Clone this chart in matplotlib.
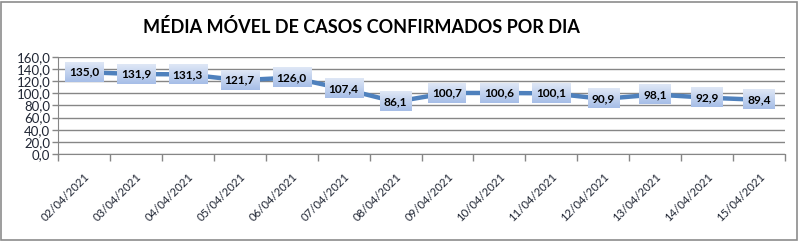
import numpy as np
import matplotlib
matplotlib.use("Agg")
import matplotlib.pyplot as plt
from matplotlib.colors import LinearSegmentedColormap
from matplotlib.patches import Rectangle

# chart data
dates = ["02/04/2021", "03/04/2021", "04/04/2021", "05/04/2021", "06/04/2021",
         "07/04/2021", "08/04/2021", "09/04/2021", "10/04/2021", "11/04/2021",
         "12/04/2021", "13/04/2021", "14/04/2021", "15/04/2021"]
media = [135.0, 131.9, 131.3, 121.7, 126.0, 107.4, 86.1,
         100.7, 100.6, 100.1, 90.9, 98.1, 92.9, 89.4]
yticks = [0, 20, 40, 60, 80, 100, 120, 140, 160]
title = "MÉDIA MÓVEL DE CASOS CONFIRMADOS POR DIA"

plt.rcParams['font.family'] = ['Lato', 'DejaVu Sans']

W, H = 799, 241
fig = plt.figure(figsize=(W / 100, H / 100), dpi=100)

# outer frame of the chart area
fig.patches.append(Rectangle((1 / W, 1 / H), (W - 3) / W, (H - 3) / H,
                             transform=fig.transFigure, fill=False,
                             edgecolor='#8c8c8c', linewidth=1.2))

ax = fig.add_axes([58 / W, 1 - 154 / H, (785 - 58) / W, (154 - 57) / H])

fig.text(361 / W, 1 - 27 / H, title, ha='center', va='center',
         fontsize=13, fontweight='bold', color='black')

x = np.arange(len(dates))
ax.plot(x, media, color='#4f81bd', linewidth=3.2, solid_capstyle='round', zorder=2)

ax.set_xlim(-0.5, len(dates) - 0.5)
ax.set_ylim(0, 160)
ax.set_yticks(yticks)
ax.set_yticklabels([f"{v:.1f}".replace('.', ',') for v in yticks])
ax.yaxis.grid(True, color='#868686', linewidth=1.0)
ax.set_axisbelow(True)

ax.set_xticks(x)
ax.set_xticklabels(dates, rotation=45, ha='right', rotation_mode='anchor')
ax.set_xticks(np.arange(len(dates) + 1) - 0.5, minor=True)
ax.tick_params(axis='x', which='major', length=0, pad=12, labelsize=8.2,
               labelcolor='#1f2533')
ax.tick_params(axis='x', which='minor', length=5, color='#868686', width=1)
ax.tick_params(axis='y', length=4, color='#868686', width=1, pad=1.5,
               labelsize=9.5, labelcolor='#1f2533')

for side in ['top', 'right']:
    ax.spines[side].set_visible(False)
ax.spines['left'].set_color('#868686')
ax.spines['bottom'].set_color('#868686')

# data labels with a gradient box behind them
labels = []
for xi, v in zip(x, media):
    t = ax.text(xi, v, f"{v:.1f}".replace('.', ','), ha='center', va='center',
                fontsize=8.6, fontweight='bold', color='black', zorder=5,
                bbox=dict(boxstyle='square,pad=0.34', fc='none', ec='none'))
    labels.append(t)

fig.canvas.draw()
renderer = fig.canvas.get_renderer()
cmap = LinearSegmentedColormap.from_list('lbl', ['#dfe7f6', '#a6bee7'])
grad = np.linspace(0, 1, 64).reshape(-1, 1)
inv = ax.transData.inverted()
for t in labels:
    bb = t.get_bbox_patch().get_window_extent(renderer)
    (x0, y0), (x1, y1) = inv.transform([(bb.x0, bb.y0), (bb.x1, bb.y1)])
    ax.imshow(grad, cmap=cmap, extent=(x0, x1, y0, y1), origin='upper',
              aspect='auto', zorder=4, interpolation='bilinear')

ax.set_xlim(-0.5, len(dates) - 0.5)
ax.set_ylim(0, 160)

fig.savefig("out.png", dpi=100)
